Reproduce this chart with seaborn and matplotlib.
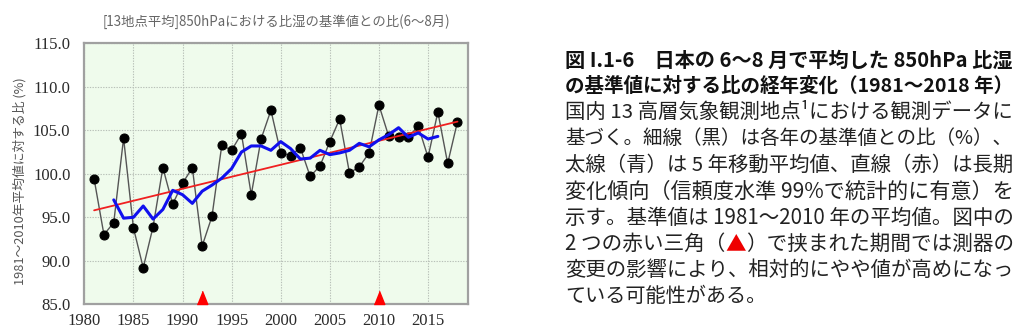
import matplotlib
matplotlib.use("Agg")
import matplotlib.pyplot as plt
import seaborn as sns
import pandas as pd

# ---------------- data ----------------
years = list(range(1981, 2019))
ratio = [99.4, 93.0, 94.4, 104.1, 93.8, 89.2, 93.9, 100.7, 96.5, 98.9,
         100.7, 91.7, 95.1, 103.3, 102.7, 104.6, 97.6, 104.0, 107.3, 102.4,
         102.1, 103.0, 99.7, 100.9, 103.7, 106.3, 100.1, 100.8, 102.4, 107.9,
         104.3, 104.2, 104.2, 105.5, 101.9, 107.1, 101.2, 106.0]
ma_years = list(range(1983, 2017))
ma_values = [97.0, 94.9, 95.0, 96.3, 94.8, 95.9, 98.1, 97.6, 96.6, 98.0,
             98.7, 99.5, 100.6, 102.5, 103.2, 103.2, 102.7, 103.7, 102.9, 101.7,
             101.8, 102.7, 102.2, 102.4, 102.7, 103.5, 103.1, 103.9, 104.5, 105.3,
             104.2, 104.7, 104.0, 104.3]
trend_years = [1981, 2018]
trend_values = [95.8, 106.0]
change_years = [1992, 2010]
change_level = [85.0, 85.0]
x_ticks = [1980, 1985, 1990, 1995, 2000, 2005, 2010, 2015]
y_ticks = [85.0, 90.0, 95.0, 100.0, 105.0, 110.0, 115.0]
y_tick_labels = ["85.0", "90.0", "95.0", "100.0", "105.0", "110.0", "115.0"]

chart_title = "[13地点平均]850hPaにおける比湿の基準値との比(6～8月)"
y_label = "1981～2010年平均値に対する比 (%)"
heading_lines = ["図 I.1-6　日本の 6～8 月で平均した 850hPa 比湿",
                 "の基準値に対する比の経年変化（1981～2018 年）"]
body_lines = ["国内 13 高層気象観測地点¹における観測データに",
              "基づく。細線（黒）は各年の基準値との比（%）、",
              "太線（青）は 5 年移動平均値、直線（赤）は長期",
              "変化傾向（信頼度水準 99%で統計的に有意）を",
              "示す。基準値は 1981～2010 年の平均値。図中の",
              ["2 つの赤い三角（", "▲", "）で挟まれた期間では測器の"],
              "変更の影響により、相対的にやや値が高めになっ",
              "ている可能性がある。"]

df = pd.DataFrame({"year": years, "ratio": ratio})
df_ma = pd.DataFrame({"year": ma_years, "ma": ma_values})
df_tr = pd.DataFrame({"year": trend_years, "trend": trend_values})

# ---------------- figure ----------------
sns.set_theme(style="white")
plt.rcParams["font.family"] = ["Noto Sans CJK JP", "DejaVu Sans"]

W, H = 1024, 330
fig = plt.figure(figsize=(W / 100, H / 100), dpi=100)
fig.patch.set_facecolor("white")
ax = fig.add_axes([84.3 / W, 1 - 304.3 / H, 384 / W, 261 / H])
ax.set_facecolor("#effbec")

ax.set_xlim(1980, 2019.1)
ax.set_ylim(85, 115)
ax.set_xticks(x_ticks)
ax.set_yticks(y_ticks)
ax.set_yticklabels(y_tick_labels)
ax.grid(True, color="#b8c0b8", linestyle=(0, (1.2, 1.2)), linewidth=0.8)
ax.set_axisbelow(True)
for s in ax.spines.values():
    s.set_color("#a0a0a0")
    s.set_linewidth(1.6)
ax.tick_params(axis="y", length=0, pad=10, labelsize=12, colors="#2a2a2a")
ax.tick_params(axis="x", length=0, pad=6, labelsize=12, colors="#2a2a2a")
for lab in ax.get_xticklabels() + ax.get_yticklabels():
    lab.set_family("Liberation Serif")

sns.lineplot(data=df, x="year", y="ratio", ax=ax, color="#555555", linewidth=1.0,
             marker="o", markersize=6.5, markerfacecolor="black",
             markeredgecolor="black", zorder=3)
sns.lineplot(data=df_tr, x="year", y="trend", ax=ax, color="#f02020",
             linewidth=1.3, zorder=4)
sns.lineplot(data=df_ma, x="year", y="ma", ax=ax, color="#1010ee",
             linewidth=2.2, zorder=5)
tri = [(-0.8, 0.0), (0.8, 0.0), (0.0, 2.0)]
ax.plot(change_years, change_level, linestyle="none", marker=tri,
        markersize=19, color="#ff0000", clip_on=False, zorder=6)
ax.set_xlabel("")
ax.set_ylabel("")

fig.text(276 / W, 1 - 22 / H, chart_title, ha="center", va="center",
         fontsize=9.6, color="#666666")
fig.text(20 / W, 1 - 181 / H, y_label, ha="center", va="center",
         rotation=90, fontsize=9.2, color="#555555")

# ---------------- right-hand caption ----------------
x0 = 565 / W
target_w = 448
renderer = fig.canvas.get_renderer()


def fitted(txt, y, size, weight, color, justify=True):
    t = fig.text(x0, y, txt, ha="left", va="center", fontsize=size,
                 fontweight=weight, color=color)
    if justify:
        w = t.get_window_extent(renderer).width
        f = max(0.9, min(1.1, target_w / w))
        t.set_fontsize(size * f)
    return t


line_y0 = 60
dy = 26.3
k = 0
for line in heading_lines:
    fitted(line, 1 - (line_y0 + k * dy) / H, 14.6, "bold", "#111111")
    k += 1
for i, line in enumerate(body_lines):
    y = 1 - (line_y0 + k * dy) / H
    last = i == len(body_lines) - 1
    if isinstance(line, list):
        full = "".join(line)
        probe = fig.text(x0, y, full, fontsize=14.5)
        w = probe.get_window_extent(renderer).width
        probe.remove()
        size = 14.5 * max(0.9, min(1.1, target_w / w))
        xcur = x0
        colors = ["#222222", "#ee0000", "#222222"]
        for part, c in zip(line, colors):
            t = fig.text(xcur, y, part, ha="left", va="center", fontsize=size,
                         color=c)
            xcur += t.get_window_extent(renderer).width / W
    else:
        fitted(line, y, 14.5, "normal", "#222222", justify=not last)
    k += 1

fig.savefig("out.png", dpi=100)
